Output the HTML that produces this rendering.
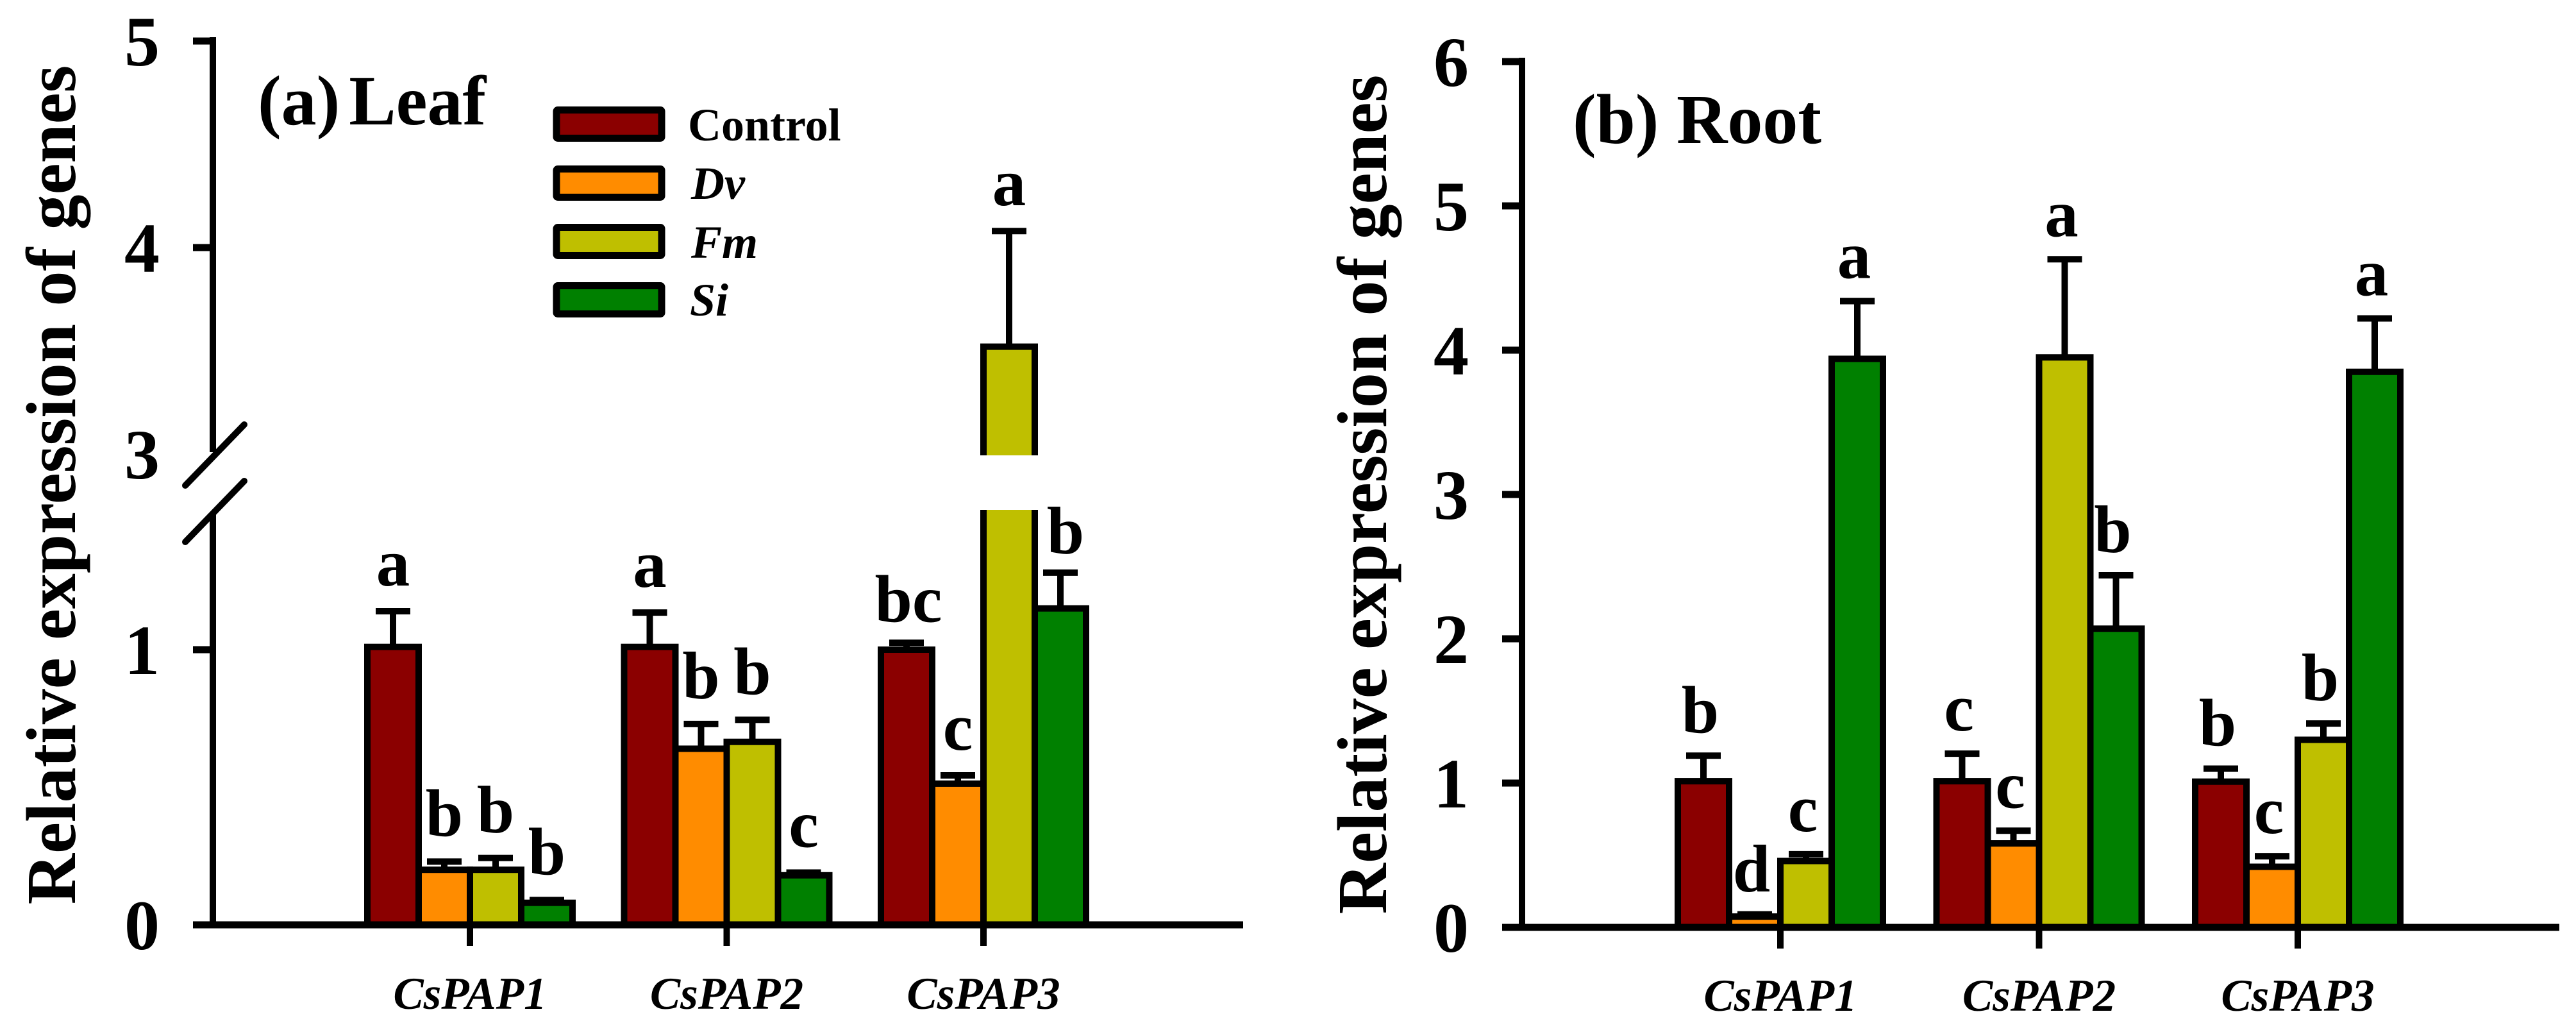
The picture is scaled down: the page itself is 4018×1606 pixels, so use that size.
<!DOCTYPE html>
<html lang="en">
<head>
<meta charset="utf-8">
<title>Relative expression of CsPAP genes</title>
<style>
html,body{margin:0;padding:0;background:#fff;}
svg{display:block;}
text{font-family:"Liberation Serif",serif;font-weight:bold;fill:#000;}
</style>
</head>
<body>
<svg id="chart" xmlns="http://www.w3.org/2000/svg" width="4018" height="1606" viewBox="0 0 4018 1606">
  <rect x="0" y="0" width="4018" height="1606" fill="#fff"/>
  <g id="panel-a">
    <text transform="translate(117,756) rotate(-90)" text-anchor="middle" font-size="110">Relative expression of genes</text>
    <text x="402" y="194" font-size="110">(a)<tspan dx="14">Leaf</tspan></text>
    <g>
      <rect x="868" y="171.5" width="164" height="44" rx="2" fill="#8b0000" stroke="#000" stroke-width="11"/>
      <text x="1073" y="219" font-size="72">Control</text>
      <rect x="868" y="263.5" width="164" height="44" rx="2" fill="#ff8c00" stroke="#000" stroke-width="11"/>
      <text x="1078" y="310" font-size="72" font-style="italic">Dv</text>
      <rect x="868" y="354.5" width="164" height="44" rx="2" fill="#bfbf00" stroke="#000" stroke-width="11"/>
      <text x="1078" y="402" font-size="72" font-style="italic">Fm</text>
      <rect x="868" y="445.5" width="164" height="44" rx="2" fill="#008000" stroke="#000" stroke-width="11"/>
      <text x="1076" y="492" font-size="72" font-style="italic">Si</text>
    </g>
  </g>
  <g id="panel-b">
    <text transform="translate(2162,771) rotate(-90)" text-anchor="middle" font-size="110">Relative expression of genes</text>
    <text x="2453" y="223" font-size="110">(b) Root</text>
  </g>
</svg>
<script>
const categories = ['CsPAP1', 'CsPAP2', 'CsPAP3'];
const seriesColors = ['#8b0000', '#ff8c00', '#bfbf00', '#008000'];

const leafControl = [1.01, 1.01, 1.0];
const leafDv = [0.2, 0.64, 0.513];
const leafFm = [0.2, 0.665, 3.52];
const leafSi = [0.08, 0.18, 1.15];
const leafControlErr = [0.13, 0.125, 0.025];
const leafDvErr = [0.03, 0.09, 0.03];
const leafFmErr = [0.043, 0.08, 0.56];
const leafSiErr = [0.01, 0.01, 0.13];
const leafControlLetters = ['a', 'a', 'bc'];
const leafDvLetters = ['b', 'b', 'c'];
const leafFmLetters = ['b', 'b', 'a'];
const leafSiLetters = ['b', 'c', 'b'];
const leafTicks = [0, 1, 4, 5];
const leafTickLabels = ['0', '1', '3', '4', '5'];
const leafTickLabelValues = [0, 1, 3, 4, 5];

const rootControl = [1.013, 1.013, 1.01];
const rootDv = [0.075, 0.582, 0.42];
const rootFm = [0.46, 3.95, 1.30];
const rootSi = [3.94, 2.07, 3.85];
const rootControlErr = [0.177, 0.191, 0.09];
const rootDvErr = [0.015, 0.088, 0.073];
const rootFmErr = [0.047, 0.68, 0.113];
const rootSiErr = [0.40, 0.37, 0.37];
const rootControlLetters = ['b', 'c', 'b'];
const rootDvLetters = ['d', 'c', 'c'];
const rootFmLetters = ['c', 'a', 'b'];
const rootSiLetters = ['a', 'b', 'a'];
const rootTicks = [0, 1, 2, 3, 4, 5, 6];
const rootTickLabels = ['0', '1', '2', '3', '4', '5', '6'];
const rootTickLabelValues = [0, 1, 2, 3, 4, 5, 6];

const NS = 'http://www.w3.org/2000/svg';
function make(parent, tag, attrs, txt) {
  const el = document.createElementNS(NS, tag);
  for (const k in attrs) el.setAttribute(k, attrs[k]);
  if (txt !== undefined) el.textContent = txt;
  parent.appendChild(el);
  return el;
}
function leafY(v) {
  if (v <= 1.5) return 1442 - 429 * v;
  return 386 + (4 - v) * 322;
}
function rootY(v) {
  return 1446 - 225 * v;
}
function drawPanel(p) {
  const g = p.group;
  const cx = i => p.x0 + i * p.pitch;
  const barW = 80;
  // bars
  p.series.forEach((vals, s) => {
    vals.forEach((v, i) => {
      const x = cx(i) + (s - 2) * barW;
      const y = p.y(v);
      const top = p.y(v + p.errs[s][i]);
      const line = make(g, 'line', {x1: x + barW / 2, x2: x + barW / 2, y1: y, y2: top, stroke: '#000', 'stroke-width': 10});
      
      
      const cap = make(g, 'line', {x1: x + barW / 2 - 27, x2: x + barW / 2 + 27, y1: top, y2: top, stroke: '#000', 'stroke-width': 10});
      
      
      const bar = make(g, 'rect', {x: x, y: y, width: barW, height: p.y0 - y, fill: seriesColors[s], stroke: '#000', 'stroke-width': 10});
      
      
      if (p.gap && v > p.gap.value) {
        const cut = make(g, 'rect', {x: x - 10, y: p.gap.y1, width: barW + 20, height: p.gap.y2 - p.gap.y1, fill: '#fff'});
        
        
      }
      const nudge = (p.letterNudge && p.letterNudge[s + ',' + i]) || [0, 0];
      const lab = make(g, 'text', {x: x + barW / 2 + p.letterDx + nudge[0], y: top - p.letterGap + nudge[1], 'text-anchor': 'middle', 'font-size': 105}, p.letters[s][i]);
      
      
    });
  });
  // y axis
  p.axisSegments.forEach(sg => {
    const ax = make(g, 'line', {x1: p.ax, x2: p.ax, y1: sg[0], y2: sg[1], stroke: '#000', 'stroke-width': 10});
    
    
  });
  p.ticks.forEach(t => {
    const tk = make(g, 'line', {x1: p.ax - 31, x2: p.ax, y1: p.y(t), y2: p.y(t), stroke: '#000', 'stroke-width': 11});
    
    
  });
  p.tickLabels.forEach((t, i) => {
    const tl = make(g, 'text', {x: p.ax - 83, y: p.y(p.tickLabelValues[i]) + 38, 'text-anchor': 'end', 'font-size': 110}, t);
    
    
  });
  // x axis
  const xa = make(g, 'line', {x1: p.ax - 31, x2: p.xEnd, y1: p.y0, y2: p.y0, stroke: '#000', 'stroke-width': 11});
  
  
  categories.forEach((c, i) => {
    const tk = make(g, 'line', {x1: cx(i), x2: cx(i), y1: p.y0, y2: p.y0 + 33, stroke: '#000', 'stroke-width': 10});
    
    
    const tl = make(g, 'text', {x: cx(i), y: p.labelY, 'text-anchor': 'middle', 'font-size': 71, 'font-style': 'italic'}, c);
    
    
  });
  // axis break marks
  (p.slashes || []).forEach(s => {
    const sl = make(g, 'line', {x1: s[0], y1: s[1], x2: s[2], y2: s[3], stroke: '#000', 'stroke-width': 10, 'stroke-linecap': 'round'});
    
    
  });
}
drawPanel({
  group: document.getElementById('panel-a'),
  series: [leafControl, leafDv, leafFm, leafSi],
  errs: [leafControlErr, leafDvErr, leafFmErr, leafSiErr],
  letters: [leafControlLetters, leafDvLetters, leafFmLetters, leafSiLetters],
  ticks: leafTicks, tickLabels: leafTickLabels, tickLabelValues: leafTickLabelValues,
  y: leafY, y0: 1442, x0: 733, pitch: 400.5, ax: 332, xEnd: 1939, labelY: 1573,
  letterDx: 0, letterGap: 40,
  letterNudge: {'3,2': [8, 10], '0,2': [3, 7]},
  gap: {value: 1.5, y1: 710, y2: 795},
  axisSegments: [[58, 705], [802, 1447]],
  slashes: [[289, 757, 381, 662], [289, 845, 381, 750]]
});
drawPanel({
  group: document.getElementById('panel-b'),
  series: [rootControl, rootDv, rootFm, rootSi],
  errs: [rootControlErr, rootDvErr, rootFmErr, rootSiErr],
  letters: [rootControlLetters, rootDvLetters, rootFmLetters, rootSiLetters],
  ticks: rootTicks, tickLabels: rootTickLabels, tickLabelValues: rootTickLabelValues,
  y: rootY, y0: 1446, x0: 2777, pitch: 403.5, ax: 2374, xEnd: 3992, labelY: 1576,
  letterDx: -5, letterGap: 36,
  axisSegments: [[90, 1451]]
});
</script>
</body>
</html>
